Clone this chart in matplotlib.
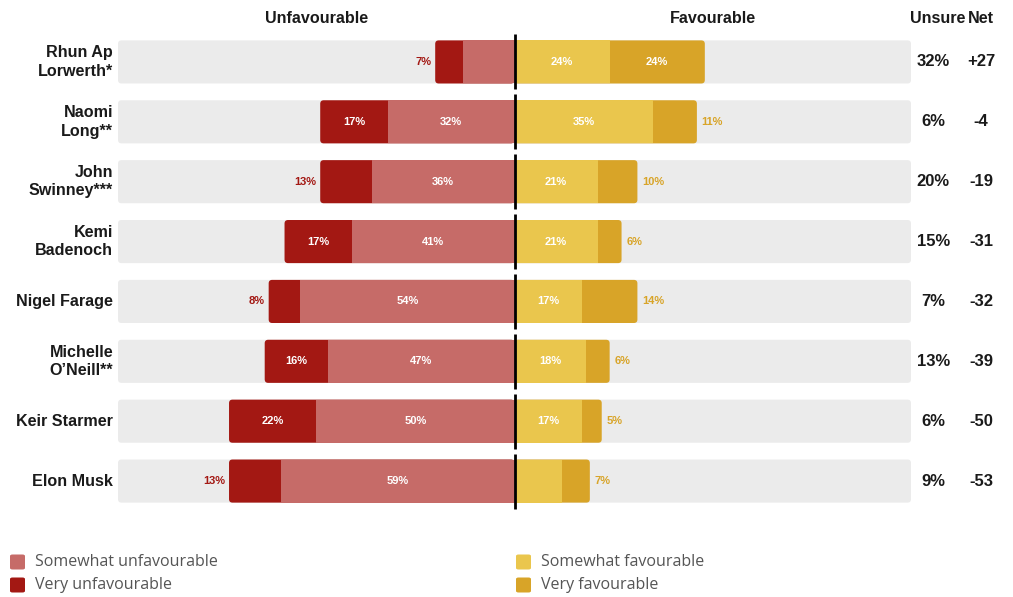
import matplotlib
matplotlib.use("Agg")
import matplotlib.pyplot as plt
from matplotlib.patches import FancyBboxPatch, Rectangle

names = ["Rhun Ap\nLorwerth*", "Naomi\nLong**", "John\nSwinney***", "Kemi\nBadenoch",
         "Nigel Farage", "Michelle\nO\u2019Neill**", "Keir Starmer", "Elon Musk"]
very_unfav = [7, 17, 13, 17, 8, 16, 22, 13]
somewhat_unfav = [13, 32, 36, 41, 54, 47, 50, 59]
somewhat_fav = [24, 35, 21, 21, 17, 18, 17, 12]
very_fav = [24, 11, 10, 6, 14, 6, 5, 7]
unsure = ["32%", "6%", "20%", "15%", "7%", "13%", "6%", "9%"]
net = ["+27", "-4", "-19", "-31", "-32", "-39", "-50", "-53"]

C_SU = "#c66b68"
C_VU = "#a31813"
C_SF = "#eac64d"
C_VF = "#d8a428"
C_BG = "#ebebeb"
C_TXT = "#1a1a1a"

W, H = 1013, 597
fig = plt.figure(figsize=(W / 100, H / 100), dpi=100)
plt.rcParams["font.family"] = ["Liberation Sans", "DejaVu Sans"]

# axes spans the grey track: x from -100 to 100, one row per unit
left_px, right_px = 118, 911
top_px, bot_px = 32, 511
ax = fig.add_axes([left_px / W, 1 - bot_px / H, (right_px - left_px) / W, (bot_px - top_px) / H])
XMAX = 100
n = len(names)
ax.set_xlim(-XMAX, XMAX)
ax.set_ylim(n - 0.5, -0.5)
ax.axis("off")

px_x = (right_px - left_px) / (2 * XMAX)   # pixels per x unit
px_y = (bot_px - top_px) / n                # pixels per y unit
aspect = px_x / px_y
r_px = 3.5
rx = r_px / px_x

bh = 0.72


def rbox(x0, w, y, color, z):
    p = FancyBboxPatch((x0, y - bh / 2), w, bh,
                       boxstyle=f"round,pad=0,rounding_size={rx}",
                       mutation_aspect=aspect, fc=color, ec="none", zorder=z)
    ax.add_patch(p)


for i in range(n):
    vu, su, sf, vf = very_unfav[i], somewhat_unfav[i], somewhat_fav[i], very_fav[i]
    # grey track
    rbox(-XMAX, 2 * XMAX, i, C_BG, 1)
    # unfavourable side (rounded outer end)
    rbox(-(vu + su), vu + su, i, C_VU, 2)
    ax.add_patch(Rectangle((-su, i - bh / 2), su, bh, fc=C_SU, ec="none", zorder=3))
    # favourable side
    rbox(0, sf + vf, i, C_VF, 2)
    ax.add_patch(Rectangle((0, i - bh / 2), sf, bh, fc=C_SF, ec="none", zorder=3))
    # centre divider
    ax.plot([0, 0], [i - 0.46, i + 0.46], color="black", lw=2, zorder=5, solid_capstyle="butt")

    lab = dict(fontsize=8, fontweight="bold", va="center", zorder=6)
    # segment labels
    if su >= 15:
        ax.text(-su / 2, i, f"{su}%", ha="center", color="white", **lab)
    if vu >= 15:
        ax.text(-su - vu / 2, i, f"{vu}%", ha="center", color="white", **lab)
    else:
        ax.text(-su - vu - 1, i, f"{vu}%", ha="right", color=C_VU, **lab)
    if sf >= 15:
        ax.text(sf / 2, i, f"{sf}%", ha="center", color="white", **lab)
    if vf >= 15:
        ax.text(sf + vf / 2, i, f"{vf}%", ha="center", color="white", **lab)
    else:
        ax.text(sf + vf + 1.2, i, f"{vf}%", ha="left", color=C_VF, **lab)

    # names, unsure and net columns
    ax.text(-XMAX - 1.2, i, names[i], ha="right", va="center", fontsize=11.6,
            fontweight="bold", color=C_TXT, linespacing=1.3)
    ax.text(XMAX + 5.6, i, unsure[i], ha="center", va="center", fontsize=12,
            fontweight="bold", color=C_TXT)
    ax.text(XMAX + 17.7, i, net[i], ha="center", va="center", fontsize=12,
            fontweight="bold", color=C_TXT)

hy = -0.73
ax.text(-50, hy, "Unfavourable", ha="center", va="center", fontsize=11.6, fontweight="bold", color=C_TXT)
ax.text(50, hy, "Favourable", ha="center", va="center", fontsize=11.6, fontweight="bold", color=C_TXT)
ax.text(XMAX + 6.7, hy, "Unsure", ha="center", va="center", fontsize=11.6, fontweight="bold", color=C_TXT)
ax.text(XMAX + 17.7, hy, "Net", ha="center", va="center", fontsize=11.6, fontweight="bold", color=C_TXT)

# legend
leg = [("Somewhat unfavourable", C_SU, 10, 562), ("Very unfavourable", C_VU, 10, 585),
       ("Somewhat favourable", C_SF, 516, 562), ("Very favourable", C_VF, 516, 585)]
for text, col, x, y in leg:
    fig.patches.append(FancyBboxPatch((x / W, 1 - (y + 7.5) / H), 15 / W, 15 / H,
                                      boxstyle="round,pad=0,rounding_size=0.0025",
                                      transform=fig.transFigure, fc=col, ec="none"))
    fig.text((x + 25) / W, 1 - y / H, text, ha="left", va="center", fontsize=11.5,
             color="#555555", family=["Open Sans", "DejaVu Sans"])

fig.savefig("out.png", dpi=100, facecolor="white")
